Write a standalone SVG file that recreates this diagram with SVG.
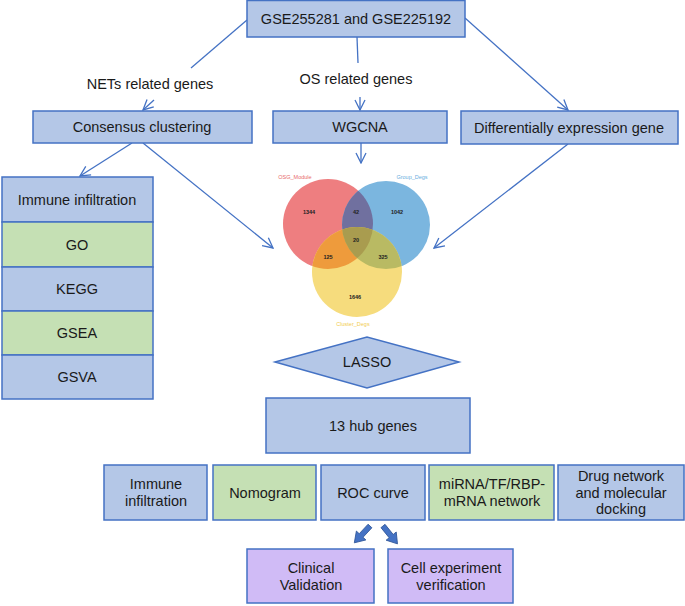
<svg xmlns="http://www.w3.org/2000/svg" width="685" height="606" viewBox="0 0 685 606">
<style>
  .b{fill:#b4c7e7;stroke:#4472c4;stroke-width:1.5}
  .g{fill:#c5e0b4;stroke:#4472c4;stroke-width:1.5}
  .p{fill:#d0bbf6;stroke:#4472c4;stroke-width:1.5}
  text{font-family:"Liberation Sans",Arial,sans-serif;font-size:14.5px;fill:#1a1a1a;text-anchor:middle;dominant-baseline:central}
  .c{fill:none;stroke:#4472c4;stroke-width:1.3}
  .n{font-size:5.5px;font-weight:bold;fill:#222}
  .vl{font-size:5.5px}
  .ba{fill:#4472c4;stroke:#2f5597;stroke-width:0.8}
</style>
<defs>
  <marker id="ah" viewBox="0 0 12 12" refX="11" refY="6" markerWidth="12" markerHeight="12" markerUnits="userSpaceOnUse" orient="auto">
    <path d="M1,1 L11,6 L1,11" fill="none" stroke="#4472c4" stroke-width="1.3"/>
  </marker>
  <clipPath id="cr"><circle cx="328" cy="224" r="45"/></clipPath>
  <clipPath id="cb"><circle cx="386" cy="225" r="44"/></clipPath>
  <clipPath id="cy"><circle cx="357" cy="272" r="45"/></clipPath>
  <path id="blk" d="M0,-2.6 L13,-2.6 L13,-6.5 L23,0 L13,6.5 L13,2.6 L0,2.6 Z"/>
</defs>

<g id="connectors">
  <path class="c" d="M247,20 L191,68"/>
  <path class="c" d="M154,100 L143,110" marker-end="url(#ah)"/>
  <path class="c" d="M357,37 L358,63"/>
  <path class="c" d="M360,97 L360,110" marker-end="url(#ah)"/>
  <path class="c" d="M465,18 L568,110" marker-end="url(#ah)"/>
  <path class="c" d="M361,143 L361,163" marker-end="url(#ah)"/>
  <path class="c" d="M143,143 L273,248" marker-end="url(#ah)"/>
  <path class="c" d="M568,144 L434,248" marker-end="url(#ah)"/>
  <path class="c" d="M132,143 L80,176" marker-end="url(#ah)"/>
  <use href="#blk" class="ba" transform="translate(370,526) rotate(133)"/>
  <use href="#blk" class="ba" transform="translate(383,526) rotate(51)"/>
</g>

<g id="top">
  <rect class="b" x="247" y="0.5" width="218" height="36.5"/>
  <text x="356" y="19">GSE255281 and GSE225192</text>
</g>
<g id="label-nets"><text x="150" y="84">NETs related genes</text></g>
<g id="label-os"><text x="356" y="79">OS related genes</text></g>

<g id="consensus">
  <rect class="b" x="33" y="111" width="219" height="32"/>
  <text x="142" y="127">Consensus clustering</text>
</g>
<g id="wgcna">
  <rect class="b" x="273" y="111" width="174" height="32"/>
  <text x="360" y="127">WGCNA</text>
</g>
<g id="deg">
  <rect class="b" x="461" y="111" width="217" height="33"/>
  <text x="569" y="127.5">Differentially expression gene</text>
</g>

<g id="left-column">
  <rect class="b" x="2" y="177" width="151" height="45"/>
  <text x="77" y="200">Immune infiltration</text>
  <rect class="g" x="2" y="222" width="151" height="45"/>
  <text x="77" y="244.5">GO</text>
  <rect class="b" x="2" y="267" width="151" height="44"/>
  <text x="77" y="289">KEGG</text>
  <rect class="g" x="2" y="311" width="151" height="44"/>
  <text x="77" y="333">GSEA</text>
  <rect class="b" x="2" y="355" width="151" height="44"/>
  <text x="77" y="377">GSVA</text>
</g>

<g id="venn">
  <circle cx="328" cy="224" r="45" fill="#ee7e80"/>
  <circle cx="386" cy="225" r="44" fill="#7bb6df"/>
  <circle cx="357" cy="272" r="45" fill="#f6dc7d"/>
  <g clip-path="url(#cr)"><circle cx="386" cy="225" r="44" fill="#70709f"/></g>
  <g clip-path="url(#cr)"><circle cx="357" cy="272" r="45" fill="#ee9b3c"/></g>
  <g clip-path="url(#cb)"><circle cx="357" cy="272" r="45" fill="#b9ba63"/></g>
  <g clip-path="url(#cr)"><g clip-path="url(#cb)"><circle cx="357" cy="272" r="45" fill="#a99c4f"/></g></g>
  <text class="vl" x="295" y="177" style="fill:#e8696b">OSG_Module</text>
  <text class="vl" x="412" y="177" style="fill:#6aaee0">Group_Degs</text>
  <text class="vl" x="353" y="324" style="fill:#f2cd50">Cluster_Degs</text>
  <text class="n" x="309" y="212">1344</text>
  <text class="n" x="356" y="212">42</text>
  <text class="n" x="397" y="212">1042</text>
  <text class="n" x="356" y="240">20</text>
  <text class="n" x="328" y="257">125</text>
  <text class="n" x="383" y="257">325</text>
  <text class="n" x="355" y="297">1646</text>
</g>

<g id="lasso">
  <polygon class="b" points="275,362 367,337 459,362 367,388"/>
  <text x="367" y="362">LASSO</text>
</g>
<g id="hub">
  <rect class="b" x="266" y="398" width="204" height="55"/>
  <text x="373" y="426">13 hub genes</text>
</g>

<g id="immune2">
  <rect class="b" x="104" y="465" width="103" height="55"/>
  <text x="156" y="484">Immune</text>
  <text x="156" y="501">infiltration</text>
</g>
<g id="nomogram">
  <rect class="g" x="213" y="465" width="103" height="55"/>
  <text x="265" y="492.5">Nomogram</text>
</g>
<g id="roc">
  <rect class="b" x="321" y="465" width="104" height="55"/>
  <text x="373" y="492.5">ROC curve</text>
</g>
<g id="mirna">
  <rect class="g" x="429" y="465" width="125" height="55"/>
  <text x="492" y="484">miRNA/TF/RBP-</text>
  <text x="492" y="501">mRNA network</text>
</g>
<g id="drug">
  <rect class="b" x="558" y="465" width="126" height="55"/>
  <text x="621" y="476">Drug network</text>
  <text x="621" y="492.5">and molecular</text>
  <text x="621" y="509">docking</text>
</g>
<g id="clinical">
  <rect class="p" x="247" y="549" width="127" height="54"/>
  <text x="311" y="568">Clinical</text>
  <text x="311" y="585">Validation</text>
</g>
<g id="cell">
  <rect class="p" x="388" y="549" width="125" height="54"/>
  <text x="451" y="568">Cell experiment</text>
  <text x="451" y="585">verification</text>
</g>
</svg>
